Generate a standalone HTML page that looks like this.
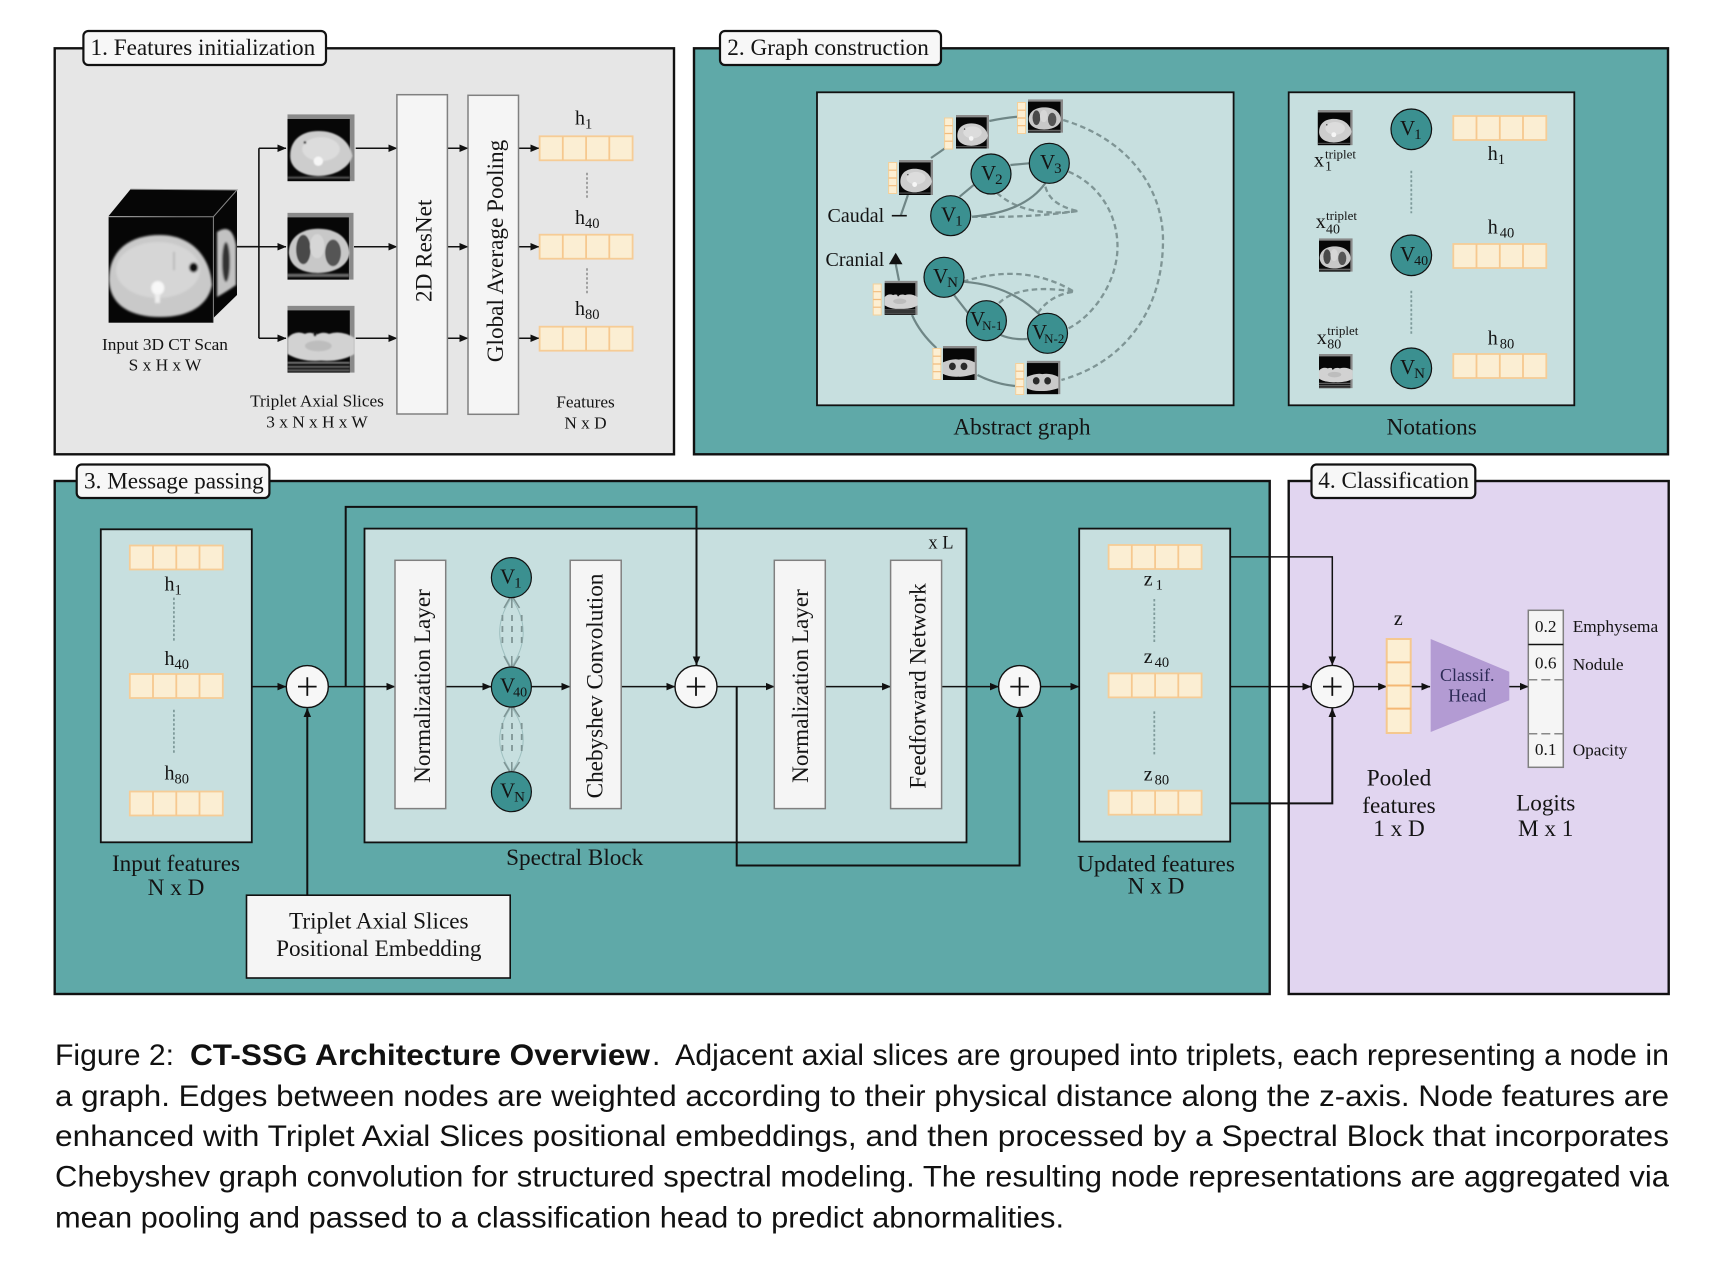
<!DOCTYPE html>
<html>
<head>
<meta charset="utf-8">
<title>CT-SSG Architecture Overview</title>
<style>
html,body{margin:0;padding:0;background:#fff}
svg{display:block}
text{font-family:"Liberation Serif",serif;fill:#141414}
.t23{font-size:23.2px}
.t17{font-size:17.3px}
.m{text-anchor:middle}
.h{font-size:20px}
.s{font-size:14.5px}
.cap{font-family:"Liberation Sans",sans-serif;font-size:30px;fill:#111}
.capb{font-weight:bold}
.w{fill:#f5f5f5;stroke:#808080;stroke-width:1.5}
.l{fill:#c7dfdf;stroke:#111;stroke-width:1.8}
.p{stroke:#111;stroke-width:2.4}
.lab{fill:#f7f7f7;stroke:#111;stroke-width:2.2}
.ar{fill:none;stroke:#111;stroke-width:1.5;marker-end:url(#a)}
.ln{fill:none;stroke:#111;stroke-width:1.6}
.ed{fill:none;stroke:#6f8686;stroke-width:2.2}
.da{fill:none;stroke:#7f9595;stroke-width:2.3;stroke-dasharray:5.5 3.5}
.do{fill:none;stroke:#7f9b9b;stroke-width:1.8;stroke-dasharray:2.5 2}
.n{fill:#3b9090;stroke:#111;stroke-width:1.2}
.c{fill:#f7f7f7;stroke:#111;stroke-width:1.4}
.plus{stroke:#111;stroke-width:1.8;fill:none}
</style>
</head>
<body>
<svg width="1722" height="1266" viewBox="0 0 1722 1266" xmlns="http://www.w3.org/2000/svg">
<defs>
<marker id="a" viewBox="0 0 10 10" refX="9.5" refY="5" markerWidth="9" markerHeight="9" markerUnits="userSpaceOnUse" orient="auto"><path d="M0 .8L10 5L0 9.2z" fill="#111"/></marker>
<filter id="b" x="-10%" y="-10%" width="120%" height="120%"><feGaussianBlur stdDeviation="1"/></filter>
<symbol id="abd" viewBox="0 0 100 100" preserveAspectRatio="none">
<rect width="100" height="100" fill="#8a8a8a"/><rect y="7" width="93" height="93" fill="#070707"/>
<g filter="url(#b)"><path d="M4 62C4 36 24 25 46 25C72 25 92 38 97 62C92 80 70 92 46 92C24 92 4 82 4 62Z" fill="#cdcdcd"/><ellipse cx="50" cy="52" rx="28" ry="18" fill="#dcdcdc"/><ellipse cx="46" cy="70" rx="7" ry="7" fill="#f6f6f6"/><circle cx="26" cy="42" r="2" fill="#333"/><rect y="93" width="93" height="3" fill="#555"/></g>
</symbol>
<symbol id="lung" viewBox="0 0 100 100" preserveAspectRatio="none">
<rect width="100" height="100" fill="#8a8a8a"/><rect y="7" width="93" height="93" fill="#070707"/>
<g filter="url(#b)"><path d="M2 60C2 35 24 24 46 24C72 24 92 35 94 60C92 80 70 90 46 90C24 90 4 82 2 60Z" fill="#c8c8c8"/><ellipse cx="24" cy="55" rx="11" ry="22" fill="#4a4a4a"/><ellipse cx="69" cy="60" rx="12" ry="20" fill="#555"/><ellipse cx="45" cy="50" rx="11" ry="18" fill="#d6d6d6"/><rect y="91" width="93" height="5" fill="#666"/></g>
</symbol>
<symbol id="neck" viewBox="0 0 100 100" preserveAspectRatio="none">
<rect width="100" height="100" fill="#8a8a8a"/><rect y="7" width="93" height="93" fill="#070707"/>
<g filter="url(#b)"><path d="M0 48Q12 36 26 42Q36 38 42 44Q52 38 62 42Q80 36 100 48V72Q80 84 50 82Q20 84 0 72Z" fill="#d2d2d2"/><ellipse cx="41" cy="42" rx="2.5" ry="4" fill="#111"/><ellipse cx="46" cy="60" rx="20" ry="8" fill="#bdbdbd"/><rect y="84" width="93" height="2.5" fill="#888"/><rect y="90" width="93" height="2.5" fill="#777"/><rect y="95" width="93" height="3" fill="#666"/></g>
</symbol>
<symbol id="kid" viewBox="0 0 100 100" preserveAspectRatio="none">
<rect width="100" height="100" fill="#8a8a8a"/><rect y="7" width="93" height="93" fill="#070707"/>
<g filter="url(#b)"><path d="M0 48Q30 36 46 40Q70 36 94 48V82Q60 92 46 90Q20 92 0 82Z" fill="#c9c9c9"/><ellipse cx="28" cy="60" rx="10" ry="11" fill="#2a2a2a"/><ellipse cx="62" cy="60" rx="10" ry="11" fill="#2a2a2a"/></g>
</symbol>
<g id="bar"><rect x="0" y="0" width="93" height="24" fill="#fbeed3" stroke="#f6cc96" stroke-width="1.8"/><path d="M23.2 0V24M46.5 0V24M69.7 0V24" stroke="#f6c88f" stroke-width="1.8"/></g>
<g id="vb"><rect width="8" height="31" fill="#fcefd3" stroke="#f5d09a" stroke-width="1"/><path d="M0 7.7H8M0 15.5H8M0 23.2H8" stroke="#f2bc7c" stroke-width="1.2"/></g>
</defs>

<rect width="1722" height="1266" fill="#fff"/>

<!-- Panels -->
<rect class="p" x="54.7" y="48.3" width="619.3" height="406" fill="#e6e6e6"/>
<rect class="p" x="694" y="48.3" width="974" height="406" fill="#5fa9a8"/>
<rect class="p" x="54.7" y="481" width="1215" height="513" fill="#5fa9a8"/>
<rect class="p" x="1288.7" y="481" width="380" height="513" fill="#e1d5f0"/>

<rect class="lab" x="83.4" y="31" width="242.6" height="34" rx="5"/>
<text class="t23" x="90.5" y="55">1. Features initialization</text>
<rect class="lab" x="720" y="31" width="221" height="34" rx="5"/>
<text class="t23" x="727.3" y="55">2. Graph construction</text>
<rect class="lab" x="76.7" y="464.5" width="192.7" height="33.5" rx="5"/>
<text class="t23" x="84" y="488.3">3. Message passing</text>
<rect class="lab" x="1311.5" y="464.5" width="163.8" height="33.5" rx="5"/>
<text class="t23" x="1318.3" y="488">4. Classification</text>

<!-- Panel 1: cube -->
<polygon points="108.6,216 130.5,189.3 237,190 213.4,216.7" fill="#060606"/>
<rect x="108.6" y="216.7" width="104.8" height="106" fill="#060606"/>
<polygon points="213.4,216.7 237,190 237,295 213.4,318" fill="#060606"/>
<path d="M130.5 189.3L237 190L213.4 216.7H108.6M213.4 216.7V322" fill="none" stroke="#888" stroke-width="1"/>
<g filter="url(#b)">
<path d="M109 280C109 250 130 235 160 235C190 235 210 255 212 285C208 305 190 317 160 317C130 317 110 305 109 280Z" fill="#c9c9c9"/>
<ellipse cx="158" cy="270" rx="42" ry="28" fill="#d6d6d6"/>
<ellipse cx="157.8" cy="288" rx="6.5" ry="7" fill="#f8f8f8"/>
<rect x="155" y="294" width="5" height="9" fill="#eee"/>
<ellipse cx="193.6" cy="267.5" rx="4.5" ry="5" fill="#0a0a0a"/>
<path d="M174 252V270" stroke="#999" stroke-width="1"/>
<path d="M217 232Q232 222 236 245V285Q226 292 217 297Z" fill="#c2c2c2"/>
<ellipse cx="226" cy="262" rx="4" ry="20" fill="#333"/>
</g>
<text class="t17 m" x="165" y="350">Input 3D CT Scan</text>
<text class="t17 m" x="165" y="370.7">S x H x W</text>

<!-- slices -->
<use href="#abd" x="287.5" y="114.3" width="67" height="67"/>
<use href="#lung" x="287.5" y="212.7" width="66" height="67"/>
<use href="#neck" x="287.5" y="305.7" width="67" height="67"/>
<text class="t17 m" x="317" y="406.7">Triplet Axial Slices</text>
<text class="t17 m" x="317" y="427.3">3 x N x H x W</text>

<path class="ln" d="M237 246.7H258.9M258.9 148.3V338.3"/>
<path class="ar" d="M258.9 148.3H286"/>
<path class="ar" d="M258.9 246.7H286"/>
<path class="ar" d="M258.9 338.3H286"/>
<path class="ar" d="M355.7 148.3H397"/>
<path class="ar" d="M354 246.7H397"/>
<path class="ar" d="M355.7 338.3H397"/>
<path class="ar" d="M447.4 148.3H468"/>
<path class="ar" d="M447.4 246.7H468"/>
<path class="ar" d="M447.4 338.3H468"/>
<path class="ar" d="M518.5 148.3H539"/>
<path class="ar" d="M518.5 246.7H539"/>
<path class="ar" d="M518.5 338.3H539"/>

<rect class="w" x="396.9" y="94.7" width="50.5" height="319.3"/>
<rect class="w" x="468" y="95.3" width="50.5" height="319"/>
<text class="t23 m" transform="translate(431.4 250.8) rotate(-90)">2D ResNet</text>
<text class="t23 m" transform="translate(503 251) rotate(-90)">Global Average Pooling</text>

<use href="#bar" x="539.6" y="136.3"/>
<use href="#bar" x="539.6" y="234.7"/>
<use href="#bar" x="539.6" y="326.7"/>
<text class="h" x="575" y="124.3">h<tspan class="s" dy="4">1</tspan></text>
<text class="h" x="575" y="224">h<tspan class="s" dy="4">40</tspan></text>
<text class="h" x="575" y="315">h<tspan class="s" dy="4">80</tspan></text>
<path class="do" d="M587 172.7V199.3M587 268.3V295" style="stroke:#999"/>
<text class="t17 m" x="585.5" y="407.7">Features</text>
<text class="t17 m" x="585.5" y="428.7">N x D</text>

<!-- Panel 2: Abstract graph -->
<rect class="l" x="817" y="92.3" width="416.6" height="313"/>
<text class="t23 m" x="1022" y="434.3">Abstract graph</text>

<path class="ed" d="M900.7 215.7L907.9 195"/>
<path d="M891.8 215.7H906.8" stroke="#111" stroke-width="1.6"/>
<path class="ed" d="M931 158L945.4 148"/>
<path class="ed" d="M989.3 121Q1003 118 1017.5 116.7"/>
<path class="ed" d="M899 280.7L895.7 264"/>
<polygon points="895.7,252.7 902.5,264.3 888.9,264.3" fill="#111"/>
<path class="ed" d="M912 315Q920 333 936.4 348"/>
<path class="ed" d="M977.5 375Q995 384 1015 386"/>
<path class="da" d="M1063.2 120C1130 140 1163 190 1163 240C1163 310 1125 362 1061.4 380"/>
<path class="da" d="M1068.6 171.7C1100 185 1117.5 215 1117.5 246.7C1117.5 280 1095 315 1068.6 328.3"/>
<path class="da" d="M972 216.7Q1030 218 1077.5 211"/>
<path class="da" d="M997 193Q1025 218 1077.5 211"/>
<path class="da" d="M1045.4 186.7Q1050 205 1077.5 211"/>
<path class="ed" d="M972 216.7Q1025 212 1045.4 183"/>
<path class="ed" d="M959.6 196.7L975.7 183.3"/>
<path class="ed" d="M1010.4 165L1029 163.3"/>
<path class="da" d="M963 281.7Q1025 262 1074 291.7"/>
<path class="da" d="M999 303Q1020 283 1074 291.7"/>
<path class="da" d="M1038 313Q1050 295 1074 291.7"/>
<path class="ed" d="M963 281.7Q1010 285 1040 315"/>
<path class="ed" d="M954 295L968 313"/>
<path class="ed" d="M1000.7 335Q1012 340 1027.5 339"/>

<use href="#vb" x="888.6" y="162.5"/><use href="#abd" x="899" y="160" width="34" height="35"/>
<use href="#vb" x="944.6" y="118"/><use href="#abd" x="956" y="115" width="33" height="33.5"/>
<use href="#vb" x="1017.5" y="102.5"/><use href="#lung" x="1028" y="99.3" width="35" height="33.5"/>
<use href="#vb" x="873.2" y="284"/><use href="#neck" x="884.6" y="280.7" width="33" height="34.3"/>
<use href="#vb" x="932.9" y="348.5"/><use href="#kid" x="942.9" y="346" width="34" height="34"/>
<use href="#vb" x="1015.7" y="363.5"/><use href="#kid" x="1026.8" y="360.7" width="33.6" height="33.6"/>

<circle class="n" cx="950.7" cy="215.7" r="20"/><circle class="n" cx="991" cy="174" r="20"/><circle class="n" cx="1049.3" cy="163.3" r="20"/>
<circle class="n" cx="944" cy="277.3" r="20"/><circle class="n" cx="986.4" cy="320.7" r="20"/><circle class="n" cx="1047.5" cy="333.3" r="20"/>
<text x="941" y="221.7" style="font-size:21px">V<tspan style="font-size:15px" dy="4" dx="-1">1</tspan></text>
<text x="981" y="180" style="font-size:21px">V<tspan style="font-size:15px" dy="4" dx="-1">2</tspan></text>
<text x="1040" y="169" style="font-size:21px">V<tspan style="font-size:15px" dy="4" dx="-1">3</tspan></text>
<text x="933" y="283" style="font-size:21px">V<tspan style="font-size:15px" dy="4" dx="-1">N</tspan></text>
<text x="970" y="326" style="font-size:21px">V<tspan style="font-size:13px" dy="4" dx="-3">N-1</tspan></text>
<text x="1032" y="339" style="font-size:21px">V<tspan style="font-size:13px" dy="4" dx="-3">N-2</tspan></text>
<text x="827.5" y="222" style="font-size:20px">Caudal</text>
<text x="825.5" y="266" style="font-size:20px">Cranial</text>

<!-- Notations -->
<rect class="l" x="1288.7" y="92.3" width="285.6" height="313"/>
<text class="t23 m" x="1431.7" y="434.3">Notations</text>
<use href="#abd" x="1317.7" y="110" width="35" height="35.3"/>
<use href="#lung" x="1319" y="238.3" width="33.7" height="33.4"/>
<use href="#neck" x="1319" y="354" width="33.7" height="34.3"/>
<text x="1314" y="166.7" style="font-size:20px">x</text><text x="1325" y="158.3" style="font-size:13px">triplet</text><text x="1325" y="170.7" style="font-size:14px">1</text>
<text x="1315.7" y="228" style="font-size:20px">x</text><text x="1326" y="220" style="font-size:13px">triplet</text><text x="1326" y="233.3" style="font-size:14px">40</text>
<text x="1316.7" y="344" style="font-size:20px">x</text><text x="1327.3" y="335" style="font-size:13px">triplet</text><text x="1327.3" y="348.3" style="font-size:14px">80</text>
<path class="do" d="M1411.3 170.7V213.3M1411.3 290.7V334"/>
<circle class="n" cx="1411.3" cy="129.3" r="20.3"/><circle class="n" cx="1411.3" cy="255.3" r="20.3"/><circle class="n" cx="1411.3" cy="368.3" r="20.3"/>
<text x="1400" y="135" style="font-size:21px">V<tspan style="font-size:15px" dy="4" dx="-1">1</tspan></text>
<text x="1400" y="261" style="font-size:21px">V<tspan style="font-size:14px" dy="4" dx="-1">40</tspan></text>
<text x="1400" y="374" style="font-size:21px">V<tspan style="font-size:15px" dy="4" dx="-1">N</tspan></text>
<use href="#bar" x="1453.3" y="116"/><use href="#bar" x="1453.3" y="244"/><use href="#bar" x="1453.3" y="354"/>
<text class="h" x="1487.7" y="160">h<tspan class="s" dy="4">1</tspan></text>
<text class="h" x="1487.7" y="233.3">h<tspan class="s" dy="4" dx="2">40</tspan></text>
<text class="h" x="1487.7" y="344.3">h<tspan class="s" dy="4" dx="2">80</tspan></text>

<!-- Panel 3 -->
<rect class="l" x="100.8" y="529.3" width="151" height="313"/>
<use href="#bar" x="129.8" y="545.5"/><use href="#bar" x="129.8" y="674"/><use href="#bar" x="129.8" y="791.5"/>
<text class="h" x="164.5" y="590.7">h<tspan class="s" dy="4">1</tspan></text>
<text class="h" x="164.5" y="664.8">h<tspan class="s" dy="4">40</tspan></text>
<text class="h" x="164.5" y="779.7">h<tspan class="s" dy="4">80</tspan></text>
<path class="do" d="M173.9 597.6V640.7M173.9 709.7V754.5"/>
<text class="t23 m" x="176" y="871">Input features</text>
<text class="t23 m" x="176" y="895">N x D</text>

<rect class="l" x="364.5" y="528.6" width="602" height="313.8"/>
<text class="m" x="941" y="548.3" style="font-size:18.5px">x L</text>
<text class="t23 m" x="574.7" y="865">Spectral Block</text>

<path class="ar" d="M251.8 686.6H286"/>
<path class="ar" style="stroke-width:2" d="M307.3 895V708.5"/>
<path class="ar" d="M328.5 686.6H395"/>
<path class="ar" style="stroke-width:2" d="M345.7 686.6V506.9H696.5V665"/>
<path class="ar" d="M445.7 686.6H491"/>
<path class="ar" d="M531.5 686.6H570"/>
<path class="ar" d="M621.2 686.6H675"/>
<path class="ar" d="M717 686.6H774.3"/>
<path class="ar" d="M825.3 686.6H890.6"/>
<path class="ar" d="M941.6 686.6H998.5"/>
<path class="ar" style="stroke-width:2" d="M736.7 686.6V865.5H1019.6V708.5"/>
<path class="ar" d="M1040.6 686.6H1079"/>

<rect class="w" x="395" y="560.3" width="50.7" height="248.3"/>
<rect class="w" x="570.2" y="560.3" width="51" height="248.3"/>
<rect class="w" x="774.3" y="560.3" width="51" height="248.3"/>
<rect class="w" x="890.6" y="560.3" width="51" height="248.3"/>
<text class="t23 m" transform="translate(429.8 686) rotate(-90)">Normalization Layer</text>
<text class="t23 m" transform="translate(602.5 686) rotate(-90)">Chebyshev Convolution</text>
<text class="t23 m" transform="translate(807.8 686) rotate(-90)">Normalization Layer</text>
<text class="t23 m" transform="translate(925.3 686) rotate(-90)">Feedforward Network</text>

<!-- fan edges between spectral nodes -->
<path fill="none" stroke="#9fc0c0" stroke-width="1" d="M511.4 598Q488 632 511.4 667M511.4 598Q535 632 511.4 667M511.4 707Q488 740 511.4 772M511.4 707Q535 740 511.4 772"/>
<path fill="none" stroke="#7f9595" stroke-width="1.6" d="M504 608L510 597.6M511.8 608V597.6M519.5 608L513 597.6M504 656L510 667M511.8 656V667M519.5 656L513 667M504 717L510 707M511.8 717V707M519.5 717L513 707M504 762L510 772M511.8 762V772M519.5 762L513 772"/>
<path fill="none" stroke="#7f9595" stroke-width="1.8" stroke-dasharray="6 5" d="M502.4 615V648M512 615V648M521.7 615V648M502.4 723V756M512 723V756M521.7 723V756"/>
<circle class="n" cx="511.4" cy="577.6" r="20"/><circle class="n" cx="511.4" cy="687" r="20"/><circle class="n" cx="511.4" cy="791.7" r="20"/>
<text x="500" y="583.5" style="font-size:21px">V<tspan style="font-size:15px" dy="4" dx="-1">1</tspan></text>
<text x="500" y="692.5" style="font-size:21px">V<tspan style="font-size:14px" dy="4" dx="-2">40</tspan></text>
<text x="500" y="797.5" style="font-size:21px">V<tspan style="font-size:15px" dy="4" dx="-1">N</tspan></text>

<circle class="c" cx="307.3" cy="686.6" r="21"/><path class="plus" d="M298 686.6H316.6M307.3 677.3V695.9"/>
<circle class="c" cx="696" cy="686.6" r="21"/><path class="plus" d="M686.7 686.6H705.3M696 677.3V695.9"/>
<circle class="c" cx="1019.6" cy="686.6" r="21"/><path class="plus" d="M1010.3 686.6H1028.9M1019.6 677.3V695.9"/>

<rect x="246.5" y="895.2" width="263.7" height="82.8" fill="#f5f5f5" stroke="#111" stroke-width="1.6"/>
<text class="t23 m" x="378.8" y="928.6">Triplet Axial Slices</text>
<text class="t23 m" x="378.8" y="956.2">Positional Embedding</text>

<rect class="l" x="1079.2" y="528.6" width="151" height="313"/>
<use href="#bar" x="1108.6" y="545"/><use href="#bar" x="1108.6" y="673.4"/><use href="#bar" x="1108.6" y="790.7"/>
<text class="h" x="1143.7" y="585.5">z<tspan class="s" dy="4" dx="3">1</tspan></text>
<text class="h" x="1143.7" y="663">z<tspan class="s" dy="4" dx="2">40</tspan></text>
<text class="h" x="1143.7" y="780.3">z<tspan class="s" dy="4" dx="2">80</tspan></text>
<path class="do" d="M1154.3 599V642.4M1154.3 711.4V754.5"/>
<text class="t23 m" x="1156" y="871.7">Updated features</text>
<text class="t23 m" x="1156" y="893.4">N x D</text>

<!-- Panel 4 -->
<path class="ar" d="M1230.2 556.9H1332.3V665"/>
<path class="ar" style="stroke-width:2" d="M1230.2 803.4H1332.3V708.5"/>
<path class="ar" d="M1230.2 686.6H1311"/>
<path class="ar" d="M1353.7 686.6H1386.7"/>
<path class="ar" d="M1410.7 686.6H1430"/>
<path class="ar" d="M1508 686.6H1528.3"/>
<circle class="c" cx="1332.3" cy="686.6" r="21.2"/><path class="plus" d="M1323 686.6H1341.6M1332.3 677.3V695.9"/>
<text class="m" x="1398.3" y="625" style="font-size:20px">z</text>
<rect x="1386.7" y="639" width="24" height="94" fill="#fcefd3" stroke="#f5c88f" stroke-width="2"/>
<path d="M1386.7 662.4H1410.7M1386.7 685.5H1410.7M1386.7 708.6H1410.7" stroke="#f5b874" stroke-width="2"/>
<polygon points="1430.7,639 1509.3,671.7 1509.3,700.3 1430.7,732" fill="#b39bd3"/>
<text class="m" x="1467.3" y="681" style="font-size:18px;fill:#2c2a55">Classif.</text>
<text class="m" x="1467.3" y="701.7" style="font-size:18px;fill:#2c2a55">Head</text>
<rect x="1528.3" y="610.3" width="35" height="157" fill="#f5f5f5" stroke="#808080" stroke-width="1.5"/>
<path d="M1528.3 644.5H1563.3" stroke="#111" stroke-width="1.4"/>
<path d="M1528.3 679.7H1563.3M1528.3 733.8H1563.3" stroke="#888" stroke-width="1.5" stroke-dasharray="9 4"/>
<text class="t17 m" x="1545.7" y="632">0.2</text>
<text class="t17 m" x="1545.7" y="668.3">0.6</text>
<text class="t17 m" x="1545.7" y="754.8">0.1</text>
<text class="t17" x="1572.7" y="632">Emphysema</text>
<text class="t17" x="1572.7" y="670">Nodule</text>
<text class="t17" x="1572.7" y="755.5">Opacity</text>
<text class="t23 m" x="1399" y="785.5">Pooled</text>
<text class="t23 m" x="1399" y="813">features</text>
<text class="t23 m" x="1399" y="836.2">1 x D</text>
<text class="t23 m" x="1545.7" y="810.7">Logits</text>
<text class="t23 m" x="1545.7" y="836.2">M x 1</text>

<!-- Caption -->
<text class="cap" x="55" y="1065" textLength="119" lengthAdjust="spacingAndGlyphs">Figure 2:</text>
<text class="cap capb" x="190" y="1065" textLength="460" lengthAdjust="spacingAndGlyphs">CT-SSG Architecture Overview</text>
<text class="cap" x="652" y="1065">.</text>
<text class="cap" x="675" y="1065" textLength="994" lengthAdjust="spacingAndGlyphs">Adjacent axial slices are grouped into triplets, each representing a node in</text>
<text class="cap" x="55" y="1106" textLength="1614" lengthAdjust="spacingAndGlyphs">a graph. Edges between nodes are weighted according to their physical distance along the z-axis. Node features are</text>
<text class="cap" x="55" y="1146" textLength="1614" lengthAdjust="spacingAndGlyphs">enhanced with Triplet Axial Slices positional embeddings, and then processed by a Spectral Block that incorporates</text>
<text class="cap" x="55" y="1186.7" textLength="1614" lengthAdjust="spacingAndGlyphs">Chebyshev graph convolution for structured spectral modeling. The resulting node representations are aggregated via</text>
<text class="cap" x="55" y="1227.3" textLength="1009" lengthAdjust="spacingAndGlyphs">mean pooling and passed to a classification head to predict abnormalities.</text>
</svg>
</body>
</html>
